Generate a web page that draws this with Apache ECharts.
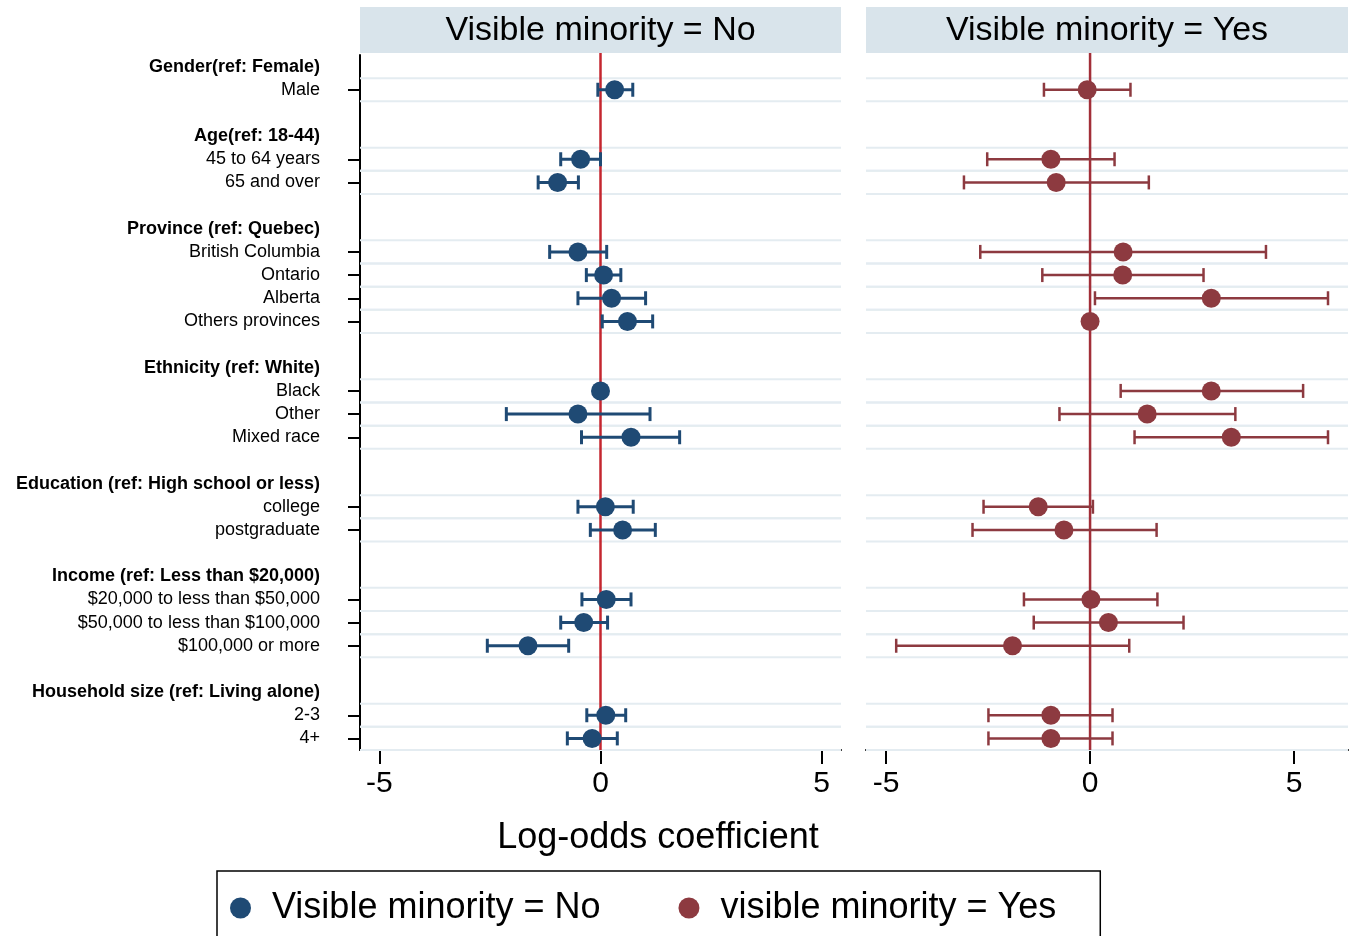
<!DOCTYPE html>
<html>
<head>
<meta charset="utf-8">
<script src="https://cdn.jsdelivr.net/npm/echarts@6/dist/echarts.min.js"></script>
<style>
html,body{margin:0;padding:0;background:#fff;}
#chart{width:1354px;height:936px;}
</style>
</head>
<body>
<div id="chart"></div>
<script>
// ---- categories (rows, top to bottom) ----
const rowLabels = [
  'Gender(ref: Female)', 'Male', '',
  'Age(ref: 18-44)', '45 to 64 years', '65 and over', '',
  'Province (ref: Quebec)', 'British Columbia', 'Ontario', 'Alberta', 'Others provinces', '',
  'Ethnicity (ref: White)', 'Black', 'Other', 'Mixed race', '',
  'Education (ref: High school or less)', 'college', 'postgraduate', '',
  'Income (ref: Less than $20,000)', '$20,000 to less than $50,000', '$50,000 to less than $100,000', '$100,000 or more', '',
  'Household size (ref: Living alone)', '2-3', '4+'
];
const headerRows = [0, 3, 7, 13, 18, 22, 27];
const dataRows = [1, 4, 5, 8, 9, 10, 11, 14, 15, 16, 19, 20, 23, 24, 25, 28, 29];

// ---- Visible minority = No ----
const noEst = [0.32, -0.45, -0.97, -0.51, 0.07, 0.25, 0.61, 0.00, -0.51, 0.69, 0.11, 0.50, 0.13, -0.38, -1.64, 0.12, -0.19];
const noLo  = [-0.06, -0.90, -1.41, -1.15, -0.32, -0.51, 0.04, null, -2.13, -0.43, -0.51, -0.23, -0.42, -0.90, -2.56, -0.31, -0.75];
const noHi  = [0.73, 0.00, -0.50, 0.14, 0.46, 1.02, 1.18, null, 1.12, 1.79, 0.74, 1.24, 0.69, 0.16, -0.72, 0.57, 0.38];

// ---- Visible minority = Yes ----
const yesEst = [-0.07, -0.96, -0.83, 0.81, 0.80, 2.97, 0.00, 2.97, 1.40, 3.46, -1.27, -0.64, 0.02, 0.45, -1.90, -0.96, -0.96];
const yesLo  = [-1.13, -2.52, -3.09, -2.69, -1.17, 0.12, null, 0.75, -0.75, 1.09, -2.61, -2.88, -1.62, -1.38, -4.75, -2.49, -2.49];
const yesHi  = [0.99, 0.60, 1.44, 4.31, 2.78, 5.83, null, 5.22, 3.56, 5.83, 0.07, 1.63, 1.65, 2.29, 0.96, 0.55, 0.55];

// ---- axis ticks ----
const xTicks = [-5, 0, 5];
const panelTitles = ['Visible minority = No', 'Visible minority = Yes'];
const legendNames = ['Visible minority = No', 'visible minority = Yes'];

// ---- styles / layout ----
const FONT = '"Liberation Sans", Arial, Helvetica, sans-serif';
const NAVY = '#1f4a74';
const MAROON = '#8d3a40';
const REFLINE = ['#c4262f', '#a22e38'];
const GRIDC = '#e4ecf1';
const STRIP = '#d9e4eb';
const PLOT_TOP = 53;
const G = [
  {left: 360, top: 55, width: 481, height: 695, xmin: -5.44, xmax: 5.44},
  {left: 866, top: 55, width: 482, height: 695, xmin: -5.49, xmax: 6.32}
];
const headerSet = new Set(headerRows);
const dataSet = new Set(dataRows);
const categories = rowLabels.map((l, i) => 'r' + i);

function gridLinesRender(params, api) {
  const c = api.coord([0, api.value(1)]);
  const h = api.size([0, 1])[1];
  const cs = params.coordSys;
  const st = {stroke: GRIDC, lineWidth: 2};
  return {type: 'group', children: [
    {type: 'line', shape: {x1: cs.x, y1: c[1] - h / 2, x2: cs.x + cs.width, y2: c[1] - h / 2}, style: st},
    {type: 'line', shape: {x1: cs.x, y1: c[1] + h / 2, x2: cs.x + cs.width, y2: c[1] + h / 2}, style: st}
  ]};
}
function vlineRender(color) {
  return function (params, api) {
    const c = api.coord([api.value(0), 0]);
    const cs = params.coordSys;
    return {type: 'line', shape: {x1: c[0], y1: PLOT_TOP, x2: c[0], y2: cs.y + cs.height},
      style: {stroke: color, lineWidth: 2.5}};
  };
}
function ciRender(color, lw) {
  return function (params, api) {
    const row = api.value(2);
    const a = api.coord([api.value(0), row]);
    const b = api.coord([api.value(1), row]);
    const cap = 7;
    const st = {stroke: color, lineWidth: lw};
    return {type: 'group', children: [
      {type: 'line', shape: {x1: a[0], y1: a[1], x2: b[0], y2: b[1]}, style: st},
      {type: 'line', shape: {x1: a[0], y1: a[1] - cap, x2: a[0], y2: a[1] + cap}, style: st},
      {type: 'line', shape: {x1: b[0], y1: b[1] - cap, x2: b[0], y2: b[1] + cap}, style: st}
    ]};
  };
}
function ciData(lo, hi) {
  const out = [];
  dataRows.forEach((r, i) => { if (lo[i] !== null && hi[i] !== null) out.push([lo[i], hi[i], r]); });
  return out;
}
function ptData(est) { return dataRows.map((r, i) => [est[i], r]); }

const chart = echarts.init(document.getElementById('chart'), null, {renderer: 'canvas'});

const xAxes = G.map((g, k) => ({
  type: 'value', gridIndex: k, min: g.xmin, max: g.xmax,
  axisLine: {show: true, onZero: false, lineStyle: {color: '#000', width: 2}},
  axisTick: {show: true, length: 14, lineStyle: {color: '#000', width: 2}, customValues: xTicks},
  axisLabel: {show: true, customValues: xTicks, fontSize: 30, color: '#000', fontFamily: FONT, margin: 19,
    formatter: v => String(v)},
  splitLine: {show: false}
}));
const yAxes = G.map((g, k) => ({
  type: 'category', gridIndex: k, data: categories, inverse: true, boundaryGap: true,
  axisLine: {show: k === 0, onZero: false, lineStyle: {color: '#000', width: 2}},
  axisTick: {show: k === 0, alignWithLabel: true, length: 12, lineStyle: {color: '#000', width: 2},
    interval: (idx) => dataSet.has(idx)},
  axisLabel: {show: k === 0, interval: 0, margin: 40, color: '#000', fontFamily: FONT, fontSize: 18,
    formatter: (v) => {
      const i = categories.indexOf(v);
      const t = rowLabels[i];
      if (!t) return '';
      return headerSet.has(i) ? '{h|' + t + '}' : '{d|' + t + '}';
    },
    rich: {
      h: {fontWeight: 'bold', fontSize: 18, fontFamily: FONT, color: '#000'},
      d: {fontWeight: 'normal', fontSize: 18, fontFamily: FONT, color: '#000'}
    }},
  splitLine: {show: false}
}));

const est = [noEst, yesEst], lo = [noLo, yesLo], hi = [noHi, yesHi];
const colors = [NAVY, MAROON];
const series = [];
G.forEach((g, k) => {
  series.push({type: 'custom', xAxisIndex: k, yAxisIndex: k, z: 1, silent: true, clip: false,
    renderItem: gridLinesRender, data: dataRows.map(r => [0, r]), encode: {x: 0, y: 1}});
  series.push({type: 'custom', xAxisIndex: k, yAxisIndex: k, z: 2, silent: true, clip: false,
    renderItem: vlineRender(REFLINE[k]), data: [[0, 0]], encode: {x: 0, y: 1}});
  series.push({type: 'custom', xAxisIndex: k, yAxisIndex: k, z: 3, silent: true,
    renderItem: ciRender(colors[k], k === 0 ? 3 : 2.5), data: ciData(lo[k], hi[k]), encode: {x: [0, 1], y: 2}});
  series.push({type: 'scatter', name: legendNames[k], xAxisIndex: k, yAxisIndex: k, z: 4,
    symbol: 'circle', symbolSize: 19, itemStyle: {color: colors[k], opacity: 1},
    data: ptData(est[k])});
});

const graphics = [];
G.forEach((g, k) => {
  graphics.push({type: 'rect', shape: {x: g.left, y: 7, width: g.width, height: PLOT_TOP - 7}, style: {fill: STRIP}, z: 0});
  graphics.push({type: 'text', x: g.left + g.width / 2, y: 31,
    style: {text: panelTitles[k], fontSize: 34, fontFamily: FONT, fill: '#000', align: 'center', verticalAlign: 'middle'}});
});
graphics.push({type: 'text', x: 658, y: 838,
  style: {text: 'Log-odds coefficient', fontSize: 36, fontFamily: FONT, fill: '#000', align: 'center', verticalAlign: 'middle'}});

chart.setOption({
  animation: false,
  backgroundColor: '#fff',
  grid: G.map(g => ({left: g.left, top: g.top, width: g.width, height: g.height, containLabel: false})),
  xAxis: xAxes,
  yAxis: yAxes,
  series: series,
  graphic: graphics,
  legend: {
    data: legendNames, left: 217, top: 871, orient: 'horizontal',
    icon: 'circle', itemWidth: 21, itemHeight: 21, itemGap: 78,
    padding: [19, 44, 40, 13], borderColor: '#000', borderWidth: 1.5,
    textStyle: {fontSize: 36, fontFamily: FONT, color: '#000', padding: [0, 0, 0, 16]},
    selectedMode: false
  }
});
</script>
</body>
</html>
